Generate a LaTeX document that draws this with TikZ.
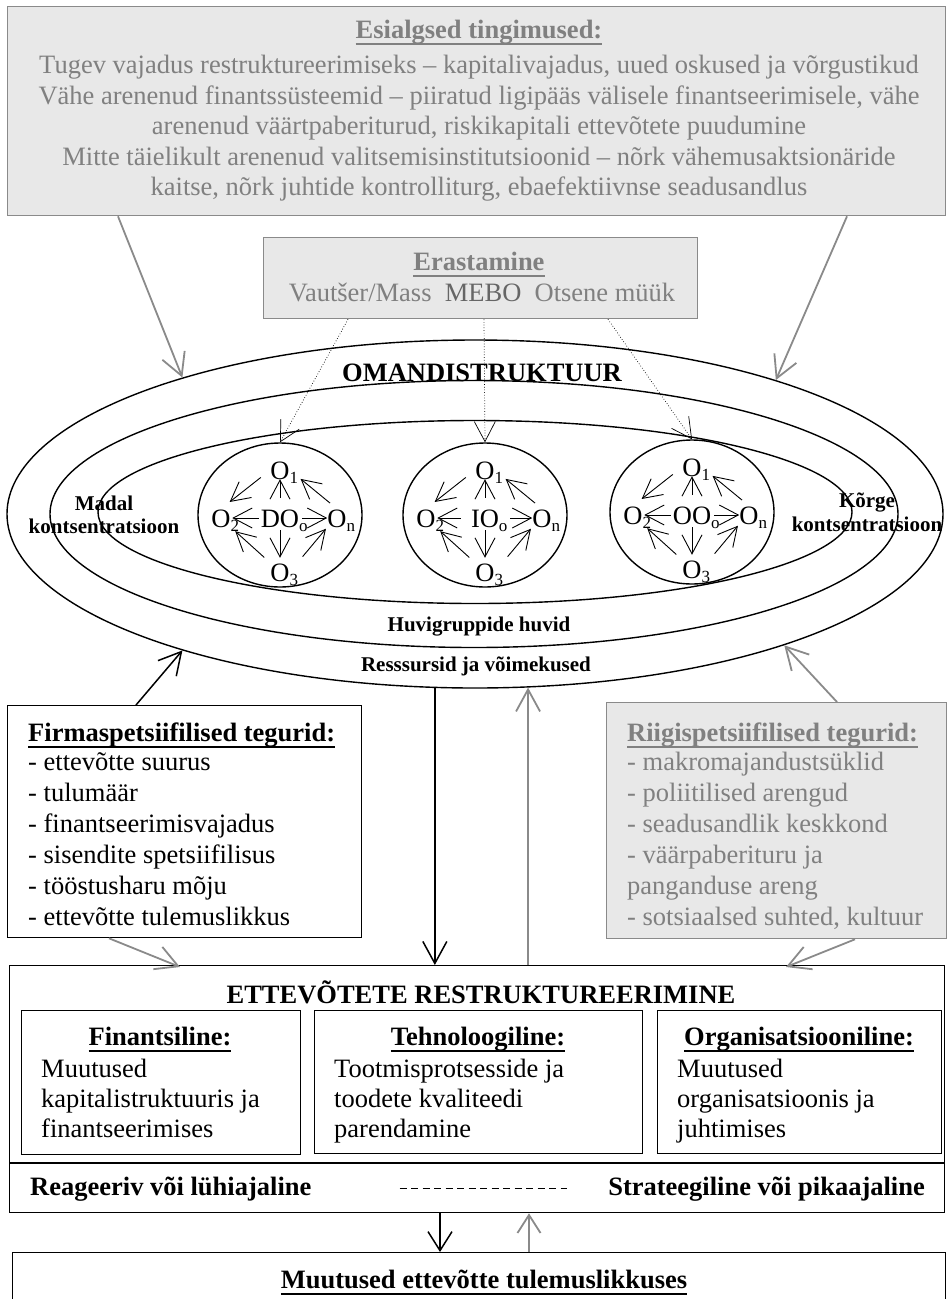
\documentclass[tikz,border=0pt]{standalone}
\usepackage{fontspec}
\setmainfont{Liberation Serif}
\usetikzlibrary{arrows.meta,shapes.geometric}

\definecolor{greytext}{HTML}{808080}
\definecolor{darkgreytext}{HTML}{666666}
\definecolor{greyfill}{HTML}{E8E8E8}
\definecolor{greyline}{HTML}{8A8A8A}

\newcommand\bodyfont{\fontsize{26.5}{31}\selectfont}
\newcommand\labelfont{\fontsize{21}{24}\selectfont\bfseries}
\newcommand\lowsub[1]{\rlap{\raisebox{-4pt}[0pt][0pt]{\fontsize{17}{17}\selectfont #1}}}
% heading underline: a rule a little below the baseline, in the text colour
\newcommand\headline[1]{\setbox0\hbox{#1}\rlap{\rule[-6.5pt]{\wd0}{1.6pt}}\box0}

\tikzset{
  txt/.style={font=\bodyfont, inner sep=0pt, anchor=base},
  txtl/.style={txt, anchor=base west},
  txtr/.style={txt, anchor=base east},
  boldtxt/.style={txt, font=\bodyfont\bfseries},
  smalllabel/.style={inner sep=0pt, anchor=base, font=\labelfont},
  greybox/.style={draw=greyline, fill=greyfill, line width=1.3pt, inner sep=0pt, anchor=north west},
  blackbox/.style={draw=black, fill=white, line width=1.3pt, inner sep=0pt, anchor=north west},
  ring/.style={ellipse, draw=black, line width=1.4pt, inner sep=0pt},
  onode/.style={font=\bodyfont, inner sep=0pt, text height=18pt, text depth=0pt},
  garrow/.style={draw=greyline, line width=1.8pt, -{Straight Barb[length=22pt,width=24pt]}},
  barrow/.style={draw=black, line width=1.5pt, -{Straight Barb[length=22pt,width=24pt]}},
  darrow/.style={draw=black, line width=0.7pt, dotted, -{Straight Barb[length=20pt,width=21pt]}},
  oarrow/.style={draw=black, line width=0.9pt, -{Straight Barb[length=19pt,width=20pt]}},
}

% one ownership cluster: ring with owner O_o in the centre and four owners around it
% #1 name, #2 centre, #3 centre label, #4/#5 start gaps of the west/east arrows
\newcommand\ownercluster[5]{%
  \node[ring, minimum width=164pt, minimum height=144pt] (#1) at (#2) {};
  \begin{scope}[shift={(#2)}]
    \node[onode] (#1-c)  at (0,3)   {#3\lowsub{o}};
    \node[onode] (#1-o1) at (0,-45) {O\lowsub{1}};
    \node[onode] (#1-o2) at (-59,3) {O\lowsub{2}};
    \node[onode] (#1-o3) at (0,57)  {O\lowsub{3}};
    \node[onode] (#1-on) at (57,3)  {O\lowsub{n}};
  \end{scope}
  \draw[oarrow, shorten <=11pt] (#1-c) -- (#1-o1);
  \draw[oarrow, shorten <=3pt, shorten >=5pt] (#1-c) -- (#1-o3);
  \draw[oarrow, shorten <=#4, shorten >=1.5pt] (#1-c) -- (#1-o2);
  \draw[oarrow, shorten <=#5] (#1-c) -- (#1-on);
  \draw[oarrow, shorten <=12pt, shorten >=11pt] (#1-o1.west) -- (#1-o2.north);
  \draw[oarrow, shorten <=8pt, shorten >=6pt] (#1-o3.north west) -- (#1-o2.south east);
  \draw[oarrow, shorten <=9pt, shorten >=14pt] (#1-on.north) -- (#1-o1.east);
  \draw[oarrow, shorten <=20pt, shorten >=2pt] (#1-o3.east) -- (#1-on.south west);
}

\begin{document}
\begin{tikzpicture}[x=1pt,y=-1pt]
\useasboundingbox (0,0) rectangle (948,1299);

% initial conditions
\node[greybox, minimum width=938pt, minimum height=209pt] (cond) at (7,6) {};
\node[boldtxt, text=greytext] (condT) at (479,38) {\headline{Esialgsed tingimused:}};
\foreach \t [count=\i] in {%
  {Tugev vajadus restruktureerimiseks – kapitalivajadus, uued oskused ja võrgustikud},
  {Vähe arenenud finantssüsteemid – piiratud ligipääs välisele finantseerimisele, vähe},
  {arenenud väärtpaberiturud, riskikapitali ettevõtete puudumine},
  {Mitte täielikult arenenud valitsemisinstitutsioonid – nõrk vähemusaktsionäride},
  {kaitse, nõrk juhtide kontrolliturg, ebaefektiivnse seadusandlus}}
  \node[txt, text=greytext] (cond\i) at (479,43+30.5*\i) {\t};

% privatisation
\node[greybox, minimum width=434pt, minimum height=81pt] (priv) at (263,237) {};
\node[boldtxt, text=greytext] (privT) at (479,270) {\headline{Erastamine}};
\node[txt, text=greytext] (privM) at (482,301)
  {Vautšer/Mass\ \ \textcolor{darkgreytext}{MEBO}\ \ Otsene müük};

% ownership structure rings
\node[ring, minimum width=936pt, minimum height=348pt] (outer) at (475,514) {};
\node[ring, minimum width=848pt, minimum height=267pt] (middle) at (474,514) {};
\node[ring, minimum width=754pt, minimum height=183pt] (inner) at (475,512) {};
\node[txt, font=\bodyfont\bfseries] (own) at (482,381) {OMANDISTRUKTUUR};
\node[smalllabel] (low1) at (104,510) {Madal};
\node[smalllabel] (low2) at (104,533) {kontsentratsioon};
\node[smalllabel] (high1) at (867,507) {Kõrge};
\node[smalllabel] (high2) at (867,531) {kontsentratsioon};
\node[smalllabel] (stake) at (479,631) {Huvigruppide huvid};
\node[smalllabel] (res) at (476,671) {Resssursid ja võimekused};

\ownercluster{circL}{280,515}{DO}{2pt}{3pt}
\ownercluster{circM}{485,515}{IO}{10pt}{11pt}
\ownercluster{circR}{692,512}{OO}{2pt}{3pt}

% firm and country factors
\node[blackbox, minimum width=354pt, minimum height=232pt] (firm) at (7,705) {};
\node[boldtxt, anchor=base west] (firmT) at (28,741) {\headline{Firmaspetsiifilised tegurid:}};
\foreach \t [count=\i] in {%
  {- ettevõtte suurus}, {- tulumäär}, {- finantseerimisvajadus},
  {- sisendite spetsiifilisus}, {- tööstusharu mõju}, {- ettevõtte tulemuslikkus}}
  \node[txtl] (firm\i) at (28,739+31*\i) {\t};

\node[greybox, minimum width=340pt, minimum height=236pt] (country) at (606,702) {};
\node[boldtxt, anchor=base west, text=greytext] (countryT) at (627,741) {\headline{Riigispetsiifilised tegurid:}};
\foreach \t [count=\i] in {%
  {- makromajandustsüklid}, {- poliitilised arengud}, {- seadusandlik keskkond},
  {- väärpaberituru ja}, {panganduse areng}, {- sotsiaalsed suhted, kultuur}}
  \node[txtl, text=greytext] (country\i) at (627,739+31*\i) {\t};

% restructuring
\node[blackbox, minimum width=935pt, minimum height=247pt] (restr) at (9,965) {};
\draw[line width=1.3pt] (restr.west |- 0,1163) -- (restr.east |- 0,1163);
\node[boldtxt] (restrT) at (481,1003) {ETTEVÕTETE RESTRUKTUREERIMINE};

\node[blackbox, minimum width=279pt, minimum height=144pt] (fin) at (21,1010) {};
\node[blackbox, minimum width=328pt, minimum height=143pt] (tech) at (314,1010) {};
\node[blackbox, minimum width=284pt, minimum height=143pt] (org) at (657,1010) {};
\node[boldtxt] (finT) at (160,1045) {\headline{Finantsiline:}};
\node[boldtxt] (techT) at (478,1045) {\headline{Tehnoloogiline:}};
\node[boldtxt] (orgT) at (799,1045) {\headline{Organisatsiooniline:}};
\foreach \t [count=\i] in {{Muutused}, {kapitalistruktuuris ja}, {finantseerimises}}
  \node[txtl] (fin\i) at (41,1047+30*\i) {\t};
\foreach \t [count=\i] in {{Tootmisprotsesside ja}, {toodete kvaliteedi}, {parendamine}}
  \node[txtl] (tech\i) at (334,1047+30*\i) {\t};
\foreach \t [count=\i] in {{Muutused}, {organisatsioonis ja}, {juhtimises}}
  \node[txtl] (org\i) at (677,1047+30*\i) {\t};

\node[boldtxt, anchor=base west] (react) at (30,1195) {Reageeriv või lühiajaline};
\node[boldtxt, anchor=base east] (strat) at (925,1195) {Strateegiline või pikaajaline};
\draw[line width=1pt, dash pattern=on 7pt off 4.5pt, shorten <=88pt, shorten >=41pt]
  (react.east) -- (strat.west);

% performance
\begin{scope}
  \clip (0,0) rectangle (948,1299);
  \node[blackbox, minimum width=933pt, minimum height=60pt] (perf) at (12,1252) {};
\end{scope}
\node[boldtxt] (perfT) at (484,1288) {\headline{Muutused ettevõtte tulemuslikkuses}};

% connectors
\draw[garrow] ([xshift=111pt]cond.south west) -- (outer.155);
\draw[garrow] ([xshift=840pt]cond.south west) -- (outer.24.3);
\draw[darrow] ([xshift=85pt]priv.south west) -- (circL.north);
\draw[darrow] ([xshift=221pt]priv.south west) -- (circM.north);
\draw[darrow] ([xshift=345pt]priv.south west) -- (circR.north);
\draw[barrow] ([xshift=129pt]firm.north west) -- (outer.205.4);
\draw[garrow] ([xshift=231pt]country.north west) -- (outer.337.5);
\draw[barrow] (outer.257.6) -- (outer.257.6 |- restr.north);
\draw[garrow] (outer.287 |- restr.north) -- (outer.287);
\draw[garrow] ([xshift=102pt]firm.south west) -- ([xshift=171pt,yshift=-2pt]restr.north west);
\draw[garrow] ([xshift=249pt]country.south west) -- ([xshift=777pt,yshift=-2pt]restr.north west);
\draw[barrow, -{Straight Barb[length=19pt,width=24pt]}] ([xshift=431pt]restr.south west) -- ([xshift=428pt]perf.north west);
\draw[garrow, -{Straight Barb[length=18pt,width=23pt]}] ([xshift=517pt]perf.north west) -- ([xshift=520pt]restr.south west);
\end{tikzpicture}
\end{document}
